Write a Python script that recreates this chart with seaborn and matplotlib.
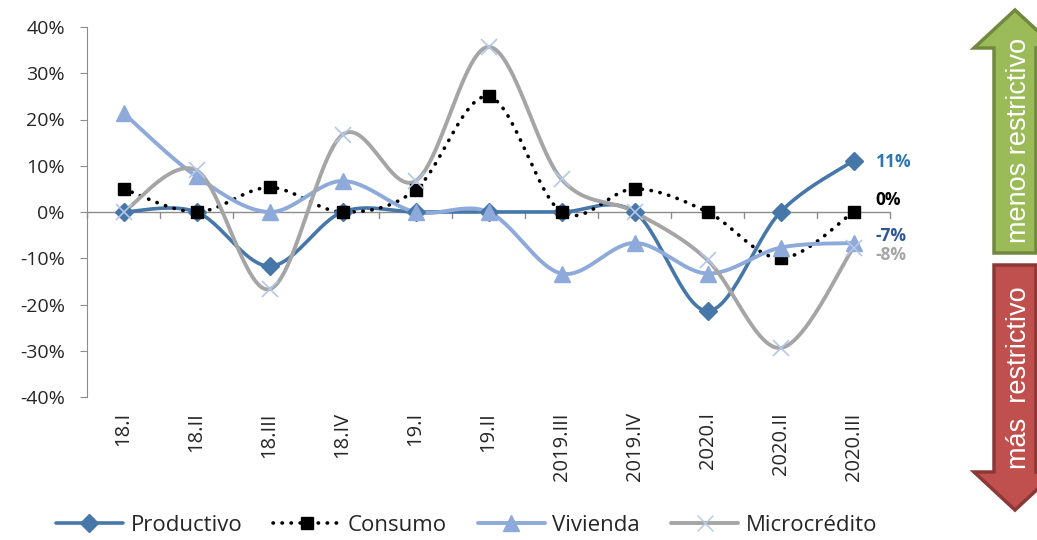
import numpy as np
import pandas as pd
import matplotlib
matplotlib.use('Agg')
import matplotlib.pyplot as plt
import seaborn as sns
from matplotlib.lines import Line2D
from matplotlib.patches import Polygon

# Data (percent)
periods = ['18.I', '18.II', '18.III', '18.IV', '19.I', '19.II',
           '2019.III', '2019.IV', '2020.I', '2020.II', '2020.III']
productivo = [0, 0, -11.7, 0, 0, 0, 0, 0, -21.4, 0, 11.1]
consumo = [5.0, 0, 5.3, 0, 4.8, 25.0, 0, 5.0, 0, -10.0, 0]
vivienda = [21.4, 7.7, 0, 6.7, 0, 0, -13.3, -6.7, -13.3, -7.7, -6.7]
microcredito = [0, 9.0, -16.7, 16.7, 6.7, 35.7, 7.1, 0, -10.4, -29.4, -7.7]
end_labels = ['11%', '0%', '-7%', '-8%']

series = {
    'Productivo': productivo,
    'Consumo': consumo,
    'Vivienda': vivienda,
    'Microcrédito': microcredito,
}

styles = {
    'Productivo': dict(color='#4677A8', ls='-', lw=2.6, marker='D', ms=9,
                       mfc='#4677A8', mec='#4677A8'),
    'Consumo': dict(color='black', ls=(0, (0.1, 2.4)), lw=2.6, marker='s', ms=8,
                    mfc='black', mec='black'),
    'Vivienda': dict(color='#8EAADB', ls='-', lw=2.8, marker='^', ms=11,
                     mfc='#8EAADB', mec='#8EAADB'),
    'Microcrédito': dict(color='#A5A5A5', ls='-', lw=2.8, marker='x', ms=11,
                         mfc='#B4C7E7', mec='#B4C7E7'),
}
label_colors = ['#2E75B6', 'black', '#2F5597', '#A5A5A5']


def smooth(xs, ys, n=30):
    # Excel-like smoothed line (Catmull-Rom via cubic Bezier)
    pts = np.column_stack([xs, ys]).astype(float)
    out = []
    for i in range(len(pts) - 1):
        p0 = pts[i - 1] if i > 0 else pts[i]
        p1, p2 = pts[i], pts[i + 1]
        p3 = pts[i + 2] if i + 2 < len(pts) else pts[i + 1]
        c1 = p1 + (p2 - p0) / 6
        c2 = p2 - (p3 - p1) / 6
        t = np.linspace(0, 1, n)[:, None]
        seg = ((1 - t) ** 3) * p1 + 3 * ((1 - t) ** 2) * t * c1 + 3 * (1 - t) * t ** 2 * c2 + t ** 3 * p2
        out.append(seg if i == 0 else seg[1:])
    return np.vstack(out)


sns.set_style('white')
plt.rcParams['font.family'] = ['Open Sans', 'DejaVu Sans']

fig = plt.figure(figsize=(10.37, 5.4), dpi=100)
ax = fig.add_axes([87 / 1037, 1 - 397 / 540, (890 - 87) / 1037, 370 / 540])

x = np.arange(len(periods))
for name, vals in series.items():
    st = styles[name]
    curve = smooth(x, vals)
    df = pd.DataFrame({'x': curve[:, 0], 'y': curve[:, 1]})
    sns.lineplot(data=df, x='x', y='y', ax=ax, sort=False, color=st['color'],
                 linestyle=st['ls'], linewidth=st['lw'], dash_capstyle='round',
                 solid_capstyle='round', zorder=2)
    ax.plot(x, vals, linestyle='none', marker=st['marker'], markersize=st['ms'],
            markerfacecolor=st['mfc'], markeredgecolor=st['mec'],
            markeredgewidth=1.2 if st['marker'] == 'x' else 1, zorder=3)

# zero axis line with category tick marks
ax.axhline(0, color='#8C8C8C', lw=1, zorder=1)
for b in np.arange(-0.5, len(periods)):
    ax.plot([b, b], [0, -1.4], color='#8C8C8C', lw=1, zorder=1, clip_on=False)

ax.set_xlim(-0.5, len(periods) - 0.5)
ax.set_ylim(-40, 40)
ax.set_yticks(np.arange(-40, 41, 10))
ax.set_yticklabels([f'{v}%' for v in range(-40, 41, 10)], fontsize=14, color='#262626')
ax.set_xticks(x)
ax.set_xticklabels(periods, rotation=90, fontsize=14.5, color='#262626')
ax.tick_params(axis='x', length=0, pad=11)
ax.tick_params(axis='y', length=5, color='#8C8C8C', direction='out', pad=11, left=True)
ax.set_xlabel('')
ax.set_ylabel('')
for s in ['top', 'right', 'bottom']:
    ax.spines[s].set_visible(False)
ax.spines['left'].set_color('#8C8C8C')

# end labels
last_vals = [10.8, 2.6, -5.2, -9.3]
for txt, yv, c in zip(end_labels, last_vals, label_colors):
    ax.annotate(txt, xy=(len(periods) - 1, yv), xytext=(16, 0), textcoords='offset points',
                ha='left', va='center', fontsize=12.5, fontweight='bold', color=c,
                annotation_clip=False)

# legend
handles = []
for name in series:
    st = styles[name]
    handles.append(Line2D([0], [0], color=st['color'], linestyle=st['ls'], linewidth=st['lw'],
                          marker=st['marker'], markersize=st['ms'], markerfacecolor=st['mfc'],
                          markeredgecolor=st['mec'], dash_capstyle='round'))
fig.legend(handles, list(series.keys()), loc='lower center', ncol=4, frameon=False,
           bbox_to_anchor=(0.45, -0.03), fontsize=16, handlelength=3.0,
           columnspacing=1.4, handletextpad=0.35)

# side arrows (pixel coordinates)
axa = fig.add_axes([0, 0, 1, 1], zorder=-1)
axa.set_xlim(0, 1037)
axa.set_ylim(540, 0)
axa.axis('off')
green = [(994, 253), (994, 48), (974, 48), (1015, 10), (1056, 48), (1036, 48), (1036, 253)]
red = [(994, 265), (994, 472), (974, 472), (1015, 510), (1056, 472), (1036, 472), (1036, 265)]
axa.add_patch(Polygon(green, closed=True, facecolor='#9BBB59', edgecolor='#71893F', lw=2.5))
axa.add_patch(Polygon(red, closed=True, facecolor='#C0504D', edgecolor='#8C3836', lw=2.5))
axa.text(1019, 140, 'menos restrictivo', rotation=90, ha='center', va='center',
         color='white', fontsize=19.5, family=['Liberation Sans Narrow', 'Liberation Sans'])
axa.text(1019, 378, 'más  restrictivo', rotation=90, ha='center', va='center',
         color='white', fontsize=19.5, family=['Liberation Sans Narrow', 'Liberation Sans'])

fig.savefig('out.png', dpi=100)
